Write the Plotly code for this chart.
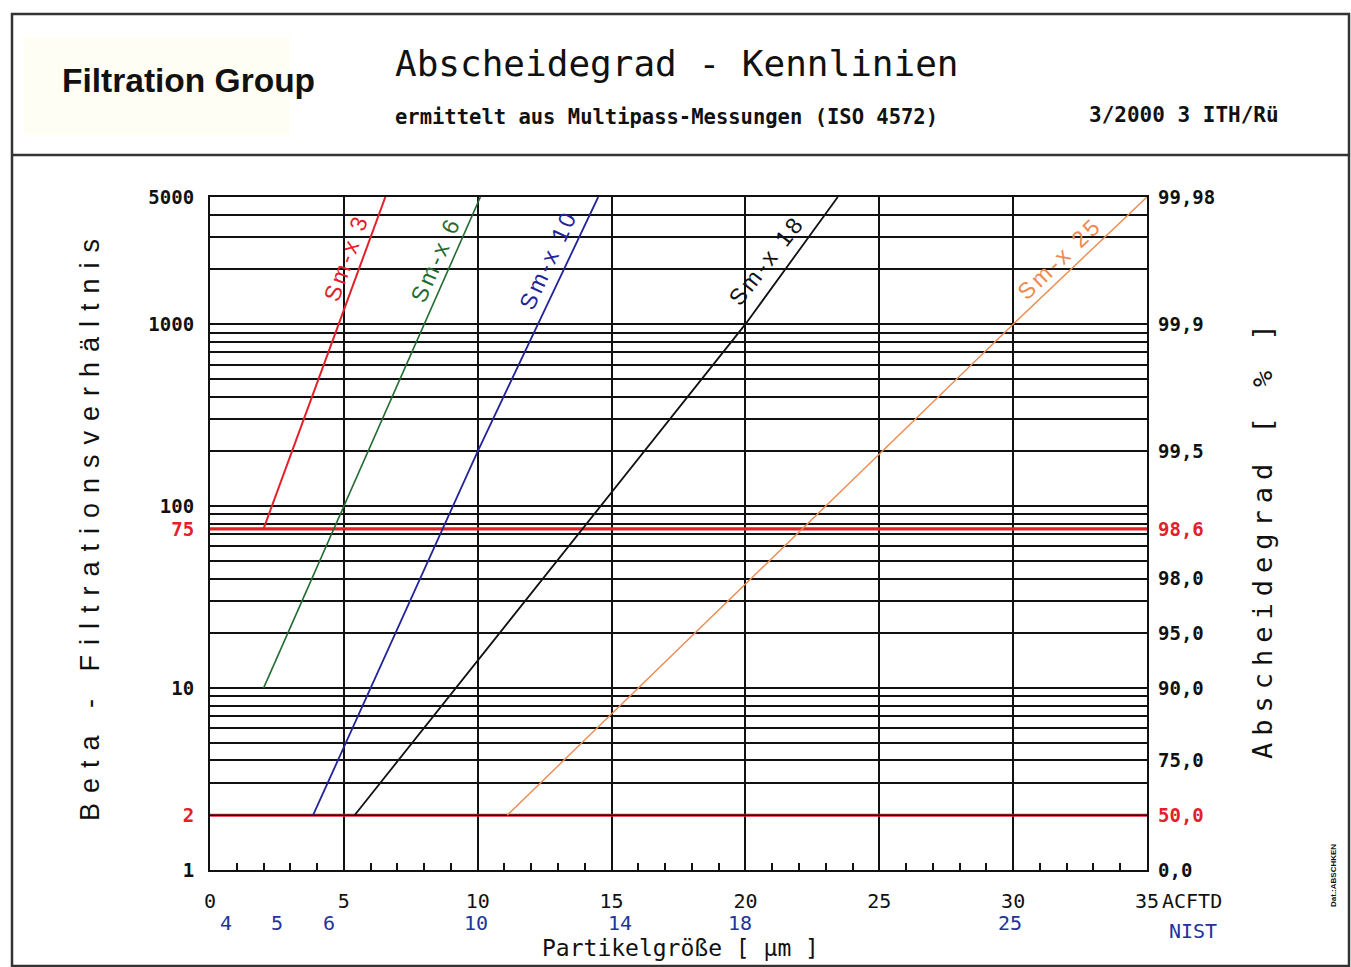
import math
import plotly.graph_objects as go

# ---------------- data ----------------
series_names = ["Sm-x 3", "Sm-x 6", "Sm-x 10", "Sm-x 18", "Sm-x 25"]
sm3_x = [2.0, 6.55]
sm3_beta = [75, 5000]
sm6_x = [2.0, 5.0, 10.1]
sm6_beta = [10, 100, 5000]
sm10_x = [3.85, 10.0, 14.5]
sm10_beta = [2, 200, 5000]
sm18_x = [5.4, 20.0, 23.45]
sm18_beta = [2, 1000, 5000]
sm25_x = [11.1, 30.0, 35.0]
sm25_beta = [2, 1000, 5000]

limit_beta = [75, 2]          # red reference lines
x_range = [0, 35]

beta_grid = [1, 2, 3, 4, 5, 6, 7, 8, 9,
             10, 20, 30, 40, 50, 60, 70, 80, 90,
             100, 200, 300, 400, 500, 600, 700, 800, 900,
             1000, 2000, 3000, 4000, 5000]
beta_label_vals = [5000, 1000, 100, 75, 10, 2, 1]
beta_label_text = ["5000", "1000", "100", "75", "10", "2", "1"]
beta_red_labels = [75, 2]

eff_tick_vals = [5000, 1000, 200, 75, 40, 20, 10, 4, 2, 1]
eff_tick_text = ["99,98", "99,9", "99,5", "98,6", "98,0", "95,0", "90,0", "75,0", "50,0", "0,0"]
eff_red_labels = ["98,6", "50,0"]

acftd_ticks = [0, 5, 10, 15, 20, 25, 30, 35]
nist_pos = [0.6, 2.5, 4.45, 9.95, 15.3, 19.8, 29.9]
nist_text = ["4", "5", "6", "10", "14", "18", "25"]

# ---------------- styles ----------------
RED = "#e3212b"
GREEN = "#236b30"
BLUE = "#23239a"
BLACK = "#111111"
ORANGE = "#ee8a50"
NAVY = "#233399"
MONO = "DejaVu Sans Mono"
SANS = "Liberation Sans"

series = [
    (series_names[0], sm3_x, sm3_beta, RED, 2.0),
    (series_names[1], sm6_x, sm6_beta, GREEN, 1.6),
    (series_names[2], sm10_x, sm10_beta, BLUE, 1.8),
    (series_names[3], sm18_x, sm18_beta, BLACK, 1.8),
    (series_names[4], sm25_x, sm25_beta, ORANGE, 1.4),
]

fig = go.Figure()

# red limit lines (beta 75 and beta 2)
for b in limit_beta:
    fig.add_trace(go.Scatter(x=x_range, y=[b, b], mode="lines",
                             line=dict(color=RED, width=3.2),
                             showlegend=False, hoverinfo="skip"))
# black line on top of the red one at beta = 2
fig.add_trace(go.Scatter(x=x_range, y=[limit_beta[1]] * 2, mode="lines",
                         line=dict(color=BLACK, width=1.4),
                         showlegend=False, hoverinfo="skip"))

for name, xs, ys, col, w in series:
    fig.add_trace(go.Scatter(x=xs, y=ys, mode="lines", name=name,
                             line=dict(color=col, width=w),
                             showlegend=False))

# dummy trace for the right axis
fig.add_trace(go.Scatter(x=[None], y=[None], yaxis="y2", showlegend=False))

# left tick values / text
left_vals = sorted(set(beta_grid + beta_label_vals))
left_text = []
for v in left_vals:
    if v in beta_label_vals:
        t = beta_label_text[beta_label_vals.index(v)]
        if v in beta_red_labels:
            t = f'<span style="color:{RED}">{t}</span>'
        left_text.append(t)
    else:
        left_text.append("")

right_text = [f'<span style="color:{RED}">{t}</span>' if t in eff_red_labels else t
              for t in eff_tick_text]

yrange = [0, math.log10(max(beta_grid))]

fig.update_layout(
    width=1351, height=967,
    margin=dict(l=210, r=204, t=197, b=97),
    paper_bgcolor="white", plot_bgcolor="white",
    xaxis=dict(range=x_range, dtick=5, tick0=0, tickvals=acftd_ticks,
               showgrid=True, gridcolor=BLACK, gridwidth=1.5,
               showline=True, linecolor=BLACK, linewidth=2.2, mirror=True,
               ticks="inside", ticklen=7, tickwidth=1.5, tickcolor=BLACK,
               minor=dict(dtick=1, tick0=0, ticks="inside", ticklen=7,
                          tickwidth=1.5, tickcolor=BLACK, showgrid=False),
               tickfont=dict(family=MONO, size=20, color=BLACK),
               ticklabelstandoff=12, zeroline=False),
    yaxis=dict(type="log", range=yrange, tickmode="array",
               tickvals=left_vals, ticktext=left_text,
               showgrid=True, gridcolor=BLACK, gridwidth=1.5,
               showline=True, linecolor=BLACK, linewidth=2.2, mirror=True,
               ticks="", tickfont=dict(family=MONO, size=19, color=BLACK, weight="bold"),
               ticklabelstandoff=10, zeroline=False),
    yaxis2=dict(type="log", range=yrange, overlaying="y", side="right", anchor="x",
                tickmode="array", tickvals=eff_tick_vals, ticktext=right_text,
                showgrid=False, ticks="", showline=False, zeroline=False,
                tickfont=dict(family=MONO, size=19, color=BLACK, weight="bold"),
                ticklabelstandoff=10),
)

# ---- positions helper (pixel -> paper) ----
PX0, PX1, PY0, PY1 = 210, 1147, 197, 870
def px(x):
    return (x - PX0) / (PX1 - PX0)
def py(y):
    return (PY1 - y) / (PY1 - PY0)

shapes = [
    # outer frame
    dict(type="rect", xref="paper", yref="paper", x0=px(12), x1=px(1349), y0=py(966), y1=py(14),
         line=dict(color="#333333", width=2.5), layer="below"),
    # header separator
    dict(type="line", xref="paper", yref="paper", x0=px(12), x1=px(1349), y0=py(155), y1=py(155),
         line=dict(color="#333333", width=2.5)),
    # faint logo box
    dict(type="rect", xref="paper", yref="paper", x0=px(24), x1=px(290), y0=py(135), y1=py(36),
         line=dict(width=0), fillcolor="#fefef4", layer="below"),
]
fig.update_layout(shapes=shapes)

ann = []
def A(text, x, y, size, family=MONO, color=BLACK, angle=0, xanchor="center", yanchor="middle",
      xref="paper", yref="paper", weight="normal"):
    ann.append(dict(text=text, x=x, y=y, xref=xref, yref=yref, showarrow=False,
                    textangle=angle, xanchor=xanchor, yanchor=yanchor,
                    font=dict(family=family, size=size, color=color, weight=weight)))

A("Filtration Group", px(188), py(81), 33.5, family=SANS, weight="bold")
A("Abscheidegrad - Kennlinien", px(677), py(63), 36)
A("ermittelt aus Multipass-Messungen (ISO 4572)", px(666), py(117), 20.5, weight="bold")
A("3/2000 3 ITH/Rü", px(1184), py(115), 21, weight="bold")
A('<span style="letter-spacing:10px">Beta - Filtrationsverhältnis</span>',
  px(90), py(525), 27, family=SANS, angle=-90)
A('<span style="letter-spacing:7px">Abscheidegrad [ % ]</span>',
  px(1262), py(538), 27, angle=-90)
A("Partikelgröße [ µm ]", px(680), py(948), 23)
A("ACFTD", px(1160), py(901), 20, xanchor="left")
A("NIST", px(1193), py(931), 20, color=NAVY)
for xv, t in zip(nist_pos, nist_text):
    A(t, xv, py(923), 20, color=NAVY, xref="x")
A("Dat.:ABSCHKEN", px(1333), py(876), 8, family=SANS, angle=-90, weight="bold")

# series labels along the lines (positions in data units, log10 for y)
label_pos = [(5.08, 3.364, -70), (8.44, 3.358, -66), (12.63, 3.353, -65),
             (20.8, 3.353, -52), (31.75, 3.364, -44)]
for (name, xs, ys, col, w), (lx, ly, ang) in zip(series, label_pos):
    A(f'<span style="letter-spacing:3px">{name}</span>', lx, ly, 23, family=SANS,
      color=col, angle=ang, xref="x", yref="y")

fig.update_layout(annotations=ann)

fig.write_html("out.html", config={"displayModeBar": False},
               post_script="document.body.style.margin='0';document.body.style.overflow='hidden';")
